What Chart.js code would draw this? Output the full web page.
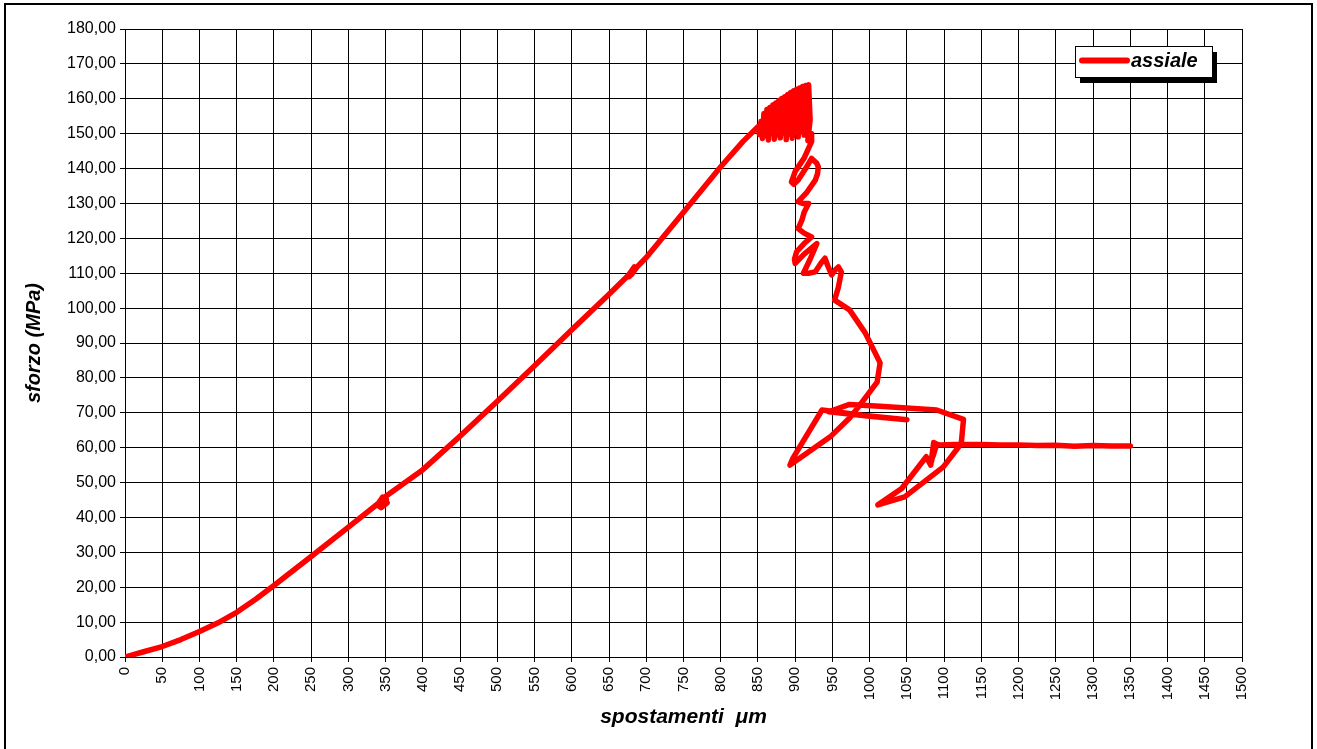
<!DOCTYPE html>
<html>
<head>
<meta charset="utf-8">
<title>sforzo - spostamenti</title>
<script src="https://cdn.jsdelivr.net/npm/chart.js@4/dist/chart.umd.min.js"></script>
<style>
    html, body { margin: 0; padding: 0; background: #fff; }
    #wrap { position: relative; width: 1317px; height: 749px; }
</style>
</head>
<body>
<div id="wrap"><canvas id="stressChart"></canvas></div>
<script>
// Curve, split into pieces (spostamenti in µm, sforzo in MPa)
const risingX = [0, 25, 50, 75, 100, 125, 150, 175, 200, 250, 300, 340, 346, 341, 351, 344, 352, 347, 400, 450, 500, 550, 600, 650, 676, 684, 677, 686, 680, 688, 700, 750, 800, 830, 850];
const risingY = [0, 1.5, 3.0, 5.0, 7.3, 9.8, 12.8, 16.5, 20.5, 28.8, 37.2, 44.0, 45.8, 43.2, 45.2, 42.8, 44.2, 45.6, 53.7, 63.3, 73.3, 83.5, 93.8, 104.0, 109.4, 111.8, 109.0, 111.5, 109.6, 111.9, 114.5, 127.5, 140.5, 147.8, 152.0];

const peakX = [852, 854, 856, 858, 860, 862, 864, 866, 868, 870, 872, 874, 876, 878, 880, 882, 884, 886, 888, 890, 892, 894, 896, 898, 900, 902, 904, 906, 908, 910, 912, 914, 916, 918, 920, 917, 922];
const peakY = [149.8, 153.5, 148.6, 155.8, 149.5, 156.9, 148.2, 157.5, 150.1, 158.2, 148.4, 158.8, 149.7, 159.5, 148.8, 160.1, 150.2, 160.6, 148.3, 161.2, 149.9, 161.8, 148.7, 162.3, 150.4, 162.7, 149.1, 163.1, 151.0, 163.5, 149.6, 163.8, 152.3, 164.0, 154.0, 148.0, 150.0];

const dropX = [922, 912, 900, 895, 898, 904, 914, 922, 929, 931, 930, 927, 915, 904, 910, 918, 912, 909, 904, 912, 922, 912, 902, 899, 900, 912, 929, 920, 911, 918, 927, 935, 940, 944, 949, 954, 958, 962, 958, 953, 973, 994, 1014, 1010, 985, 973, 947, 893];
const dropY = [147.7, 143.0, 139.2, 136.2, 135.5, 136.7, 140.0, 142.9, 141.5, 140.5, 138.5, 136.7, 133.0, 130.5, 130.0, 130.0, 127.5, 125.2, 122.8, 121.5, 120.4, 118.5, 116.2, 114.0, 112.8, 115.5, 118.5, 114.0, 110.0, 110.0, 110.4, 113.0, 114.3, 112.0, 109.5, 111.0, 111.8, 110.4, 106.0, 102.3, 99.5, 92.9, 84.3, 78.8, 71.7, 68.5, 63.1, 55.0];

const loopX = [897, 936, 990, 1050, 1000, 945, 973, 1014, 1090, 1126, 1123, 1099, 1047, 1011, 1043, 1076, 1082, 1086, 1083, 1088, 1085, 1090, 1094];
const loopY = [57.0, 70.8, 69.3, 68.0, 69.0, 70.3, 72.4, 71.9, 70.8, 68.1, 61.2, 54.5, 45.9, 43.6, 48.3, 57.4, 55.0, 61.5, 56.0, 61.3, 57.5, 61.0, 60.8];

const tailX = [1125, 1150, 1175, 1200, 1225, 1250, 1275, 1300, 1325, 1350];
const tailY = [61.0, 60.9, 60.8, 60.8, 60.6, 60.7, 60.4, 60.6, 60.5, 60.5];

const seriesLabel = 'assiale';
const xTitle = 'spostamenti  \u03BCm';
const yTitle = 'sforzo (MPa)';

const X_MIN = 0, X_MAX = 1500, X_STEP = 50;
const Y_MIN = 0, Y_MAX = 180, Y_STEP = 10;

const FONT = "'Liberation Sans', Arial, sans-serif";

// join the pieces into one polyline
const allX = risingX.concat(peakX, dropX, loopX, tailX);
const allY = risingY.concat(peakY, dropY, loopY, tailY);
const points = allX.map((x, i) => ({ x: x, y: allY[i] }));

// outer frame + boxed legend with shadow (Excel look)
const framePlugin = {
    id: 'frame',
    afterDraw(chart) {
        const ctx = chart.ctx;
        const ds = chart.data.datasets[0];
        ctx.save();

        ctx.strokeStyle = '#000';
        ctx.lineWidth = 2;
        ctx.strokeRect(5, 4, 1307, 770);

        const bx = 1075, by = 46, bw = 137, bh = 31;
        ctx.fillStyle = '#000';
        ctx.fillRect(bx + 5, by + 6, bw, bh);
        ctx.fillStyle = '#fff';
        ctx.fillRect(bx, by, bw, bh);
        ctx.lineWidth = 1;
        ctx.strokeRect(bx + 0.5, by + 0.5, bw, bh);

        ctx.strokeStyle = ds.borderColor;
        ctx.lineWidth = 6;
        ctx.lineCap = 'round';
        ctx.beginPath();
        ctx.moveTo(bx + 7, by + 14.5);
        ctx.lineTo(bx + 52, by + 14.5);
        ctx.stroke();

        ctx.fillStyle = '#000';
        ctx.font = 'italic bold 20px ' + FONT;
        ctx.textBaseline = 'middle';
        ctx.textAlign = 'left';
        ctx.fillText(ds.label, bx + 56, by + 15);
        ctx.restore();
    }
};

const ctx = document.getElementById('stressChart').getContext('2d');
new Chart(ctx, {
    type: 'scatter',
    data: {
        datasets: [{
            label: seriesLabel,
            data: points,
            showLine: true,
            borderColor: '#ff0000',
            backgroundColor: '#ff0000',
            borderWidth: 5.5,
            pointRadius: 0,
            tension: 0,
            borderJoinStyle: 'round',
            borderCapStyle: 'round'
        }]
    },
    options: {
        responsive: true,
        maintainAspectRatio: false,
        animation: false,
        layout: {
            padding: { left: 0, top: 29, right: 75, bottom: 0 }
        },
        plugins: {
            legend: { display: false },
            tooltip: { enabled: false }
        },
        scales: {
            x: {
                type: 'linear',
                min: X_MIN,
                max: X_MAX,
                afterFit(scale) { scale.height = 92; },
                ticks: {
                    stepSize: X_STEP,
                    autoSkip: false,
                    minRotation: 90,
                    maxRotation: 90,
                    padding: 5,
                    color: '#000',
                    font: { family: FONT, size: 15 },
                    callback: v => String(v)
                },
                grid: { color: '#000', lineWidth: 1, tickLength: 5 },
                border: { color: '#000', width: 1 },
                title: {
                    display: true,
                    text: xTitle,
                    color: '#000',
                    font: { family: FONT, size: 21, style: 'italic', weight: 'bold' },
                    padding: { top: 0, bottom: 19 }
                }
            },
            y: {
                min: Y_MIN,
                max: Y_MAX,
                afterFit(scale) { scale.width = 125; },
                ticks: {
                    stepSize: Y_STEP,
                    padding: 4,
                    color: '#000',
                    font: { family: FONT, size: 16 },
                    callback: v => v.toFixed(2).replace('.', ',')
                },
                grid: { color: '#000', lineWidth: 1, tickLength: 5 },
                border: { color: '#000', width: 1 },
                title: {
                    display: true,
                    text: yTitle,
                    color: '#000',
                    font: { family: FONT, size: 20, style: 'italic', weight: 'bold' },
                    padding: { top: 22, bottom: 0 }
                }
            }
        }
    },
    plugins: [framePlugin]
});
</script>
</body>
</html>
